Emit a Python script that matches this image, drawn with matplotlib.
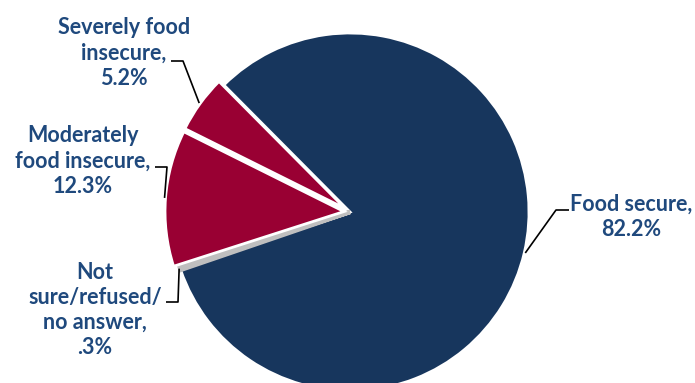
import numpy as np
import matplotlib.pyplot as plt

# food security status shares (%)
labels = ["Severely food\ninsecure,\n5.2%",
          "Moderately\nfood insecure,\n12.3%",
          "Not\nsure/refused/\nno answer,\n.3%",
          "Food secure,\n82.2%"]
shares = [5.2, 12.3, 0.3, 82.2]
colors = ["#990033", "#990033", "#BFBFBF", "#17365D"]
explode = [6, 6, 0, 0]  # pixels

text_color = "#1F497D"
W, H = 695, 383
cx, cy, R = 350, H - 212, 179

fig = plt.figure(figsize=(W / 100, H / 100), dpi=100)
ax = fig.add_axes([0, 0, 1, 1])

wedges, _ = ax.pie(shares, colors=colors, explode=explode, startangle=134.8,
                   counterclock=True, center=(cx, cy), radius=R, frame=True,
                   wedgeprops=dict(edgecolor="white", linewidth=2.0))
ax.set_xlim(0, W)
ax.set_ylim(0, H)
ax.set_aspect("equal")
ax.axis("off")

# stacking: navy at bottom, grey sliver on it without white rim, red on top
wedges[3].set_zorder(1)
wedges[2].set_zorder(2)
wedges[2].set_edgecolor(colors[2])
wedges[2].set_linewidth(3.2)
wedges[1].set_zorder(3)
wedges[0].set_zorder(3)

# label centres (pixels from top-left) and leader elbows
label_pos = [(124, 53), (83, 161), (95, 310), (631, 217)]
leader = [[(171, 61), (183, 61)],
          [(155, 167), (167, 167)],
          [(166, 302), (178, 302)],
          [(569, 210), (556, 210)]]

for w, lab, (lx, ly), pts in zip(wedges, labels, label_pos, leader):
    ax.text(lx, H - ly, lab, ha="center", va="center", color=text_color,
            fontsize=15.5, fontweight="bold", family="Lato", linespacing=1.25)
    mid = np.deg2rad((w.theta1 + w.theta2) / 2)
    wx, wy = w.center
    tip = (wx + (w.r + 1) * np.cos(mid), wy + (w.r + 1) * np.sin(mid))
    xs = [p[0] for p in pts] + [tip[0]]
    ys = [H - p[1] for p in pts] + [tip[1]]
    ax.plot(xs, ys, color="black", linewidth=1.2, solid_capstyle="butt",
            zorder=4)

fig.savefig("out.png", dpi=100)
